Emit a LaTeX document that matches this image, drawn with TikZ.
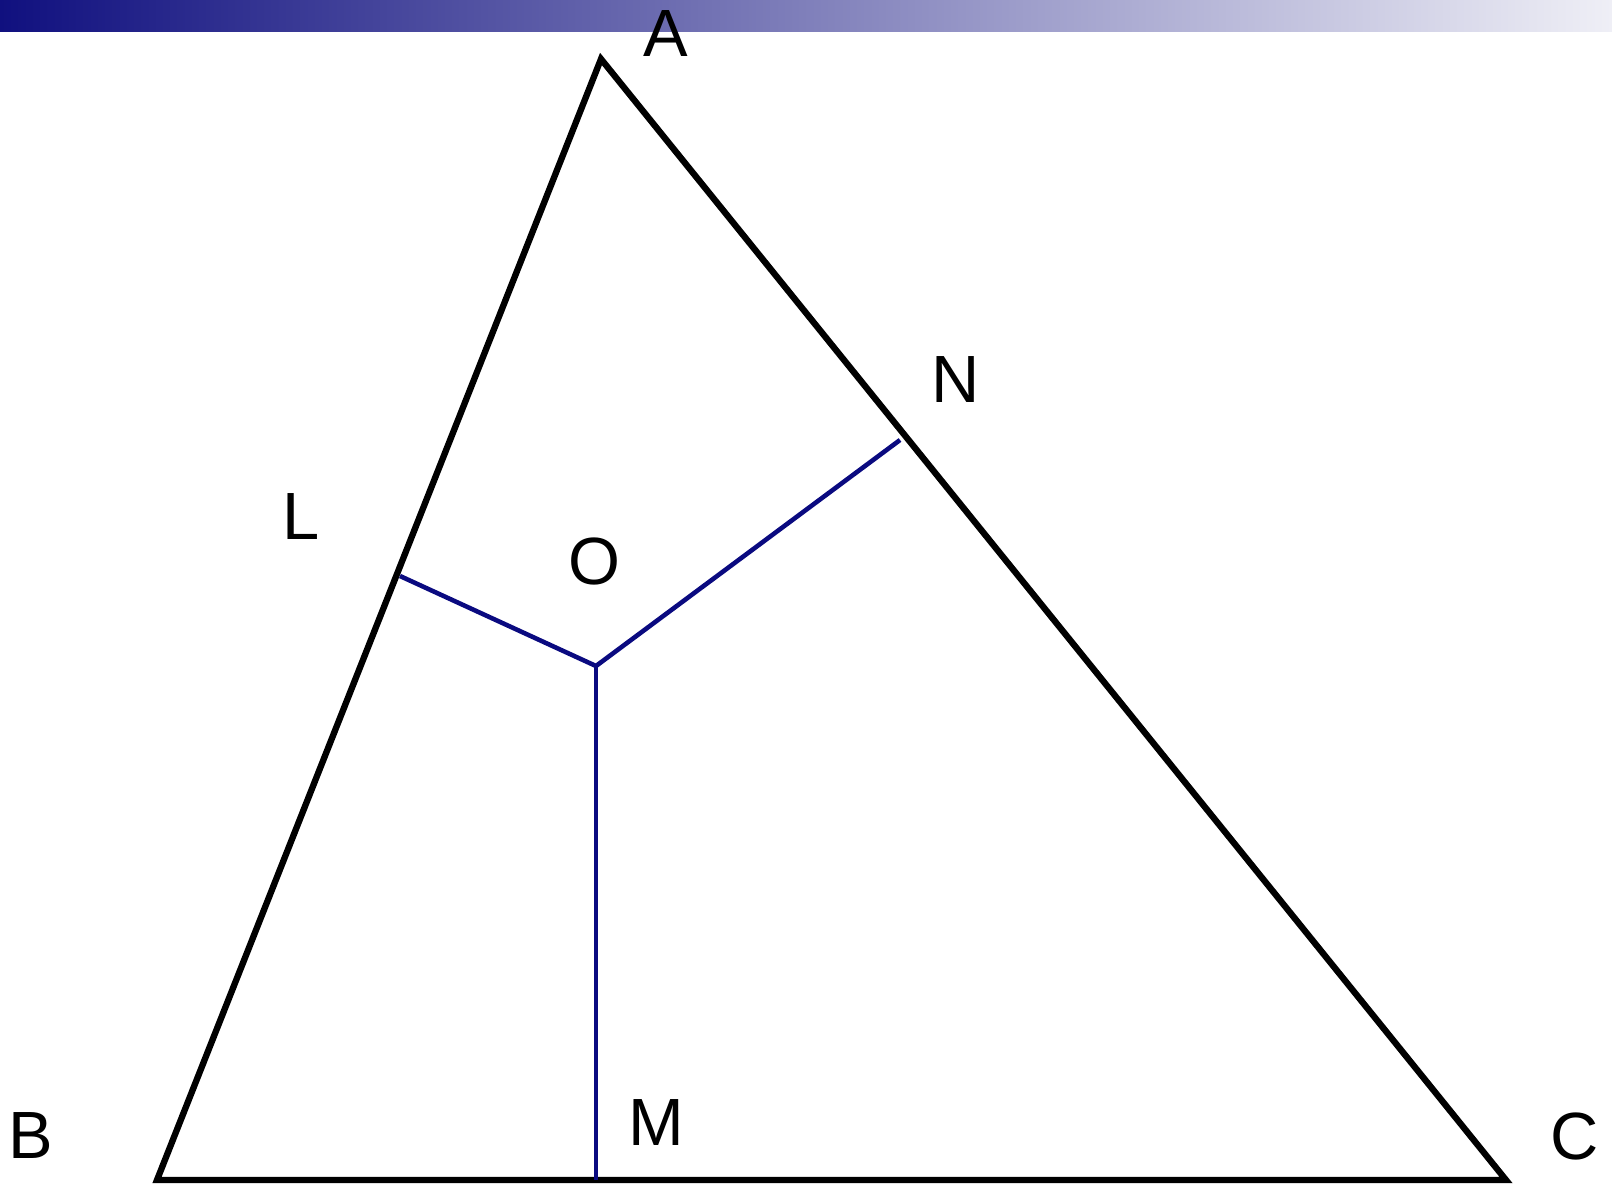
\documentclass[tikz,border=0pt]{standalone}
\usepackage{fontspec}
\setmainfont{Liberation Sans}
\usetikzlibrary{positioning}
\definecolor{navyline}{HTML}{0A0A80}
\definecolor{barleft}{HTML}{10107F}
\definecolor{barright}{HTML}{EFEFF6}

\begin{document}
\begin{tikzpicture}[x=0.01cm,y=-0.01cm,
  side/.style={draw=black, line width=1.8pt, line join=miter},
  bisector/.style={draw=navyline, line width=1.3pt},
  ptlabel/.style={font=\fontsize{19}{23}\selectfont, inner sep=0pt}]
\useasboundingbox (0,0) rectangle (1612,1185);
\shade[left color=barleft, right color=barright] (0,0) rectangle (1612,32);
% vertices and feet
\coordinate (A) at (601,59);
\coordinate (B) at (157,1180);
\coordinate (C) at (1506,1180);
\coordinate (L) at (400,576);
\coordinate (N) at (900,440);
\coordinate (M) at (596,1180);
\coordinate (O) at (596,666);
\draw[side] (A) -- (B) -- (C) -- cycle;
\draw[bisector] (L) -- (O) -- (N);
\draw[bisector] (O) -- (M);
% labels
\foreach \name/\x/\y in {A/666/34,N/956/380,L/301/517,O/594/561,M/656/1123,B/31/1136,C/1575/1136} {
  \node[ptlabel] (lab\name) at (\x,\y) {\name};
}
\end{tikzpicture}
\end{document}
